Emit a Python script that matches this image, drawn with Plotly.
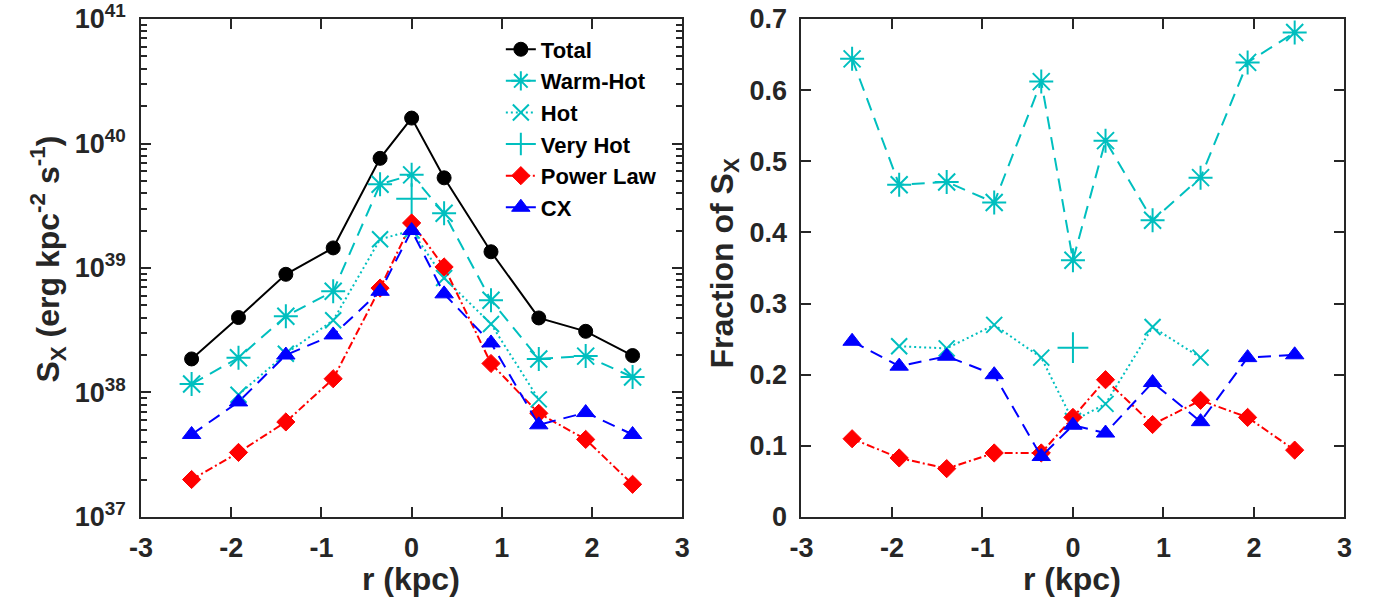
import plotly.graph_objects as go

# ---------------- data ----------------
R = [-2.44, -1.92, -1.395, -0.87, -0.35, 0.0, 0.36, 0.88, 1.41, 1.93, 2.45]

SERIES_NAMES = ["Total", "Warm-Hot", "Hot", "Very Hot", "Power Law", "CX"]

SX_TOTAL = [1.86e38, 4.0e38, 8.9e38, 1.45e39, 7.6e39, 1.6e40, 5.3e39, 1.35e39, 3.97e38, 3.1e38, 1.98e38]
SX_WARM = [1.17e38, 1.9e38, 4.1e38, 6.5e38, 4.7e39, 5.6e39, 2.75e39, 5.5e38, 1.86e38, 1.96e38, 1.33e38]
SX_HOT = [None, 9.6e37, 2.05e38, 3.8e38, 1.7e39, 2.0e39, 8.3e38, 3.55e38, 8.8e37, None, None]
SX_VHOT = [None, None, None, None, None, 3.6e39, None, None, None, None, None]
SX_PL = [2.0e37, 3.3e37, 5.8e37, 1.29e38, 6.9e38, 2.3e39, 1.02e39, 1.71e38, 6.8e37, 4.2e37, 1.83e37]
SX_CX = [4.6e37, 8.4e37, 2.0e38, 2.9e38, 6.5e38, 2.0e39, 6.2e38, 2.5e38, 5.5e37, 6.9e37, 4.6e37]

FR_WARM = [0.644, 0.467, 0.471, 0.442, 0.612, 0.361, 0.529, 0.417, 0.477, 0.639, 0.681]
FR_HOT = [None, 0.240, 0.237, 0.270, 0.224, 0.135, 0.159, 0.267, 0.224, None, None]
FR_VHOT = [None, None, None, None, None, 0.238, None, None, None, None, None]
FR_PL = [0.110, 0.083, 0.068, 0.090, 0.090, 0.140, 0.193, 0.130, 0.164, 0.140, 0.094]
FR_CX = [0.247, 0.212, 0.226, 0.200, 0.085, 0.129, 0.118, 0.189, 0.134, 0.224, 0.228]

X_TICKS = [-3, -2, -1, 0, 1, 2, 3]
X_TICK_TEXT = ["-3", "-2", "-1", "0", "1", "2", "3"]
LOG_TICKS = [1e37, 1e38, 1e39, 1e40, 1e41]
LOG_TICK_TEXT = ["10<sup>37</sup>", "10<sup>38</sup>", "10<sup>39</sup>", "10<sup>40</sup>", "10<sup>41</sup>"]
LOG_MINOR = [m * 10.0 ** e for e in range(37, 41) for m in range(2, 10)]
FR_TICKS = [0, 0.1, 0.2, 0.3, 0.4, 0.5, 0.6, 0.7]
FR_TICK_TEXT = ["0", "0.1", "0.2", "0.3", "0.4", "0.5", "0.6", "0.7"]

X_TITLE = "r (kpc)"
Y1_TITLE = "S<sub>X</sub> (erg kpc<sup>-2</sup> s<sup>-1</sup>)"
Y2_TITLE = "Fraction of S<sub>X</sub>"

# ---------------- styles ----------------
CYAN = "#00BFBF"
STYLES = {
    "Total": dict(color="black", dash="solid", symbol="circle", size=14, open=False),
    "Warm-Hot": dict(color=CYAN, dash="13px,8px", symbol="asterisk-open", size=20, open=True),
    "Hot": dict(color=CYAN, dash="2px,3px", symbol="x-thin-open", size=16, open=True),
    "Very Hot": dict(color=CYAN, dash="solid", symbol="cross-thin-open", size=22, open=True),
    "Power Law": dict(color="#FF0000", dash="8px,3px,2px,3px", symbol="diamond", size=14, open=False),
    "CX": dict(color="#0000FF", dash="13px,8px", symbol="triangle-up", size=16, open=False),
}

LEFT = {"Total": SX_TOTAL, "Warm-Hot": SX_WARM, "Hot": SX_HOT, "Very Hot": SX_VHOT,
        "Power Law": SX_PL, "CX": SX_CX}
RIGHT = {"Warm-Hot": FR_WARM, "Hot": FR_HOT, "Very Hot": FR_VHOT,
         "Power Law": FR_PL, "CX": FR_CX}

FONT = "Liberation Sans, Arial, Helvetica, sans-serif"
AXCOL = "#262626"
W, H = 1384, 600
TOP, BOT = 15, 517

fig = go.Figure()


def add(name, yvals, xa, ya, show):
    st = STYLES[name]
    marker = dict(symbol=st["symbol"], size=st["size"], color=st["color"],
                  line=dict(color=st["color"], width=2 if st["open"] else 1))
    fig.add_trace(go.Scatter(
        x=R, y=yvals, name=name, mode="lines+markers", xaxis=xa, yaxis=ya,
        line=dict(color=st["color"], width=2, dash=st["dash"]),
        marker=marker, showlegend=show, connectgaps=False,
        hoverinfo="skip"))


for n in SERIES_NAMES:
    add(n, LEFT[n], "x", "y", True)
for n in SERIES_NAMES[1:]:
    add(n, RIGHT[n], "x2", "y2", False)

tickfont = dict(family=FONT, size=27, color=AXCOL, weight="bold")

common_x = dict(range=[-3, 3], tickmode="array", tickvals=X_TICKS, ticktext=X_TICK_TEXT,
                ticks="inside", ticklen=10, tickwidth=2, tickcolor=AXCOL,
                showline=True, linecolor=AXCOL, linewidth=2, mirror="ticks",
                showgrid=False, zeroline=False, tickfont=tickfont,
                ticklabelstandoff=6, ticklabeloverflow="allow")


def py(pix):
    return (BOT - pix) / (BOT - TOP)


def title_ann(text, xpix, ypix, size, angle):
    return dict(text=text, xref="paper", yref="paper", x=xpix / W, y=py(ypix),
                xanchor="center", yanchor="middle", showarrow=False, textangle=angle,
                font=dict(family=FONT, size=size, color=AXCOL, weight="bold"))


fig.update_layout(
    width=W, height=H,
    margin=dict(l=0, r=0, t=TOP, b=H - BOT),
    paper_bgcolor="white", plot_bgcolor="white",
    font=dict(family=FONT, weight="bold", color=AXCOL),
    showlegend=True,
    legend=dict(x=496 / W, y=0.981, xanchor="left", yanchor="top",
                bgcolor="rgba(0,0,0,0)", borderwidth=0,
                font=dict(family=FONT, size=22, color="black", weight="bold"),
                itemsizing="trace"),
    xaxis=dict(domain=[131 / W, 680 / W], anchor="y", **common_x),
    xaxis2=dict(domain=[801 / W, 1352 / W], anchor="y2", **common_x),
    yaxis=dict(domain=[0, 1], anchor="x", type="log", range=[36.9999, 41.0001],
               tickmode="array", tickvals=LOG_TICKS, ticktext=LOG_TICK_TEXT,
               ticks="inside", ticklen=10, tickwidth=2, tickcolor=AXCOL,
               minor=dict(tickmode="array", tickvals=LOG_MINOR, ticks="inside",
                          ticklen=6, tickwidth=2, tickcolor=AXCOL, showgrid=False),
               showline=True, linecolor=AXCOL, linewidth=2, mirror="ticks",
               showgrid=False, zeroline=False, tickfont=tickfont, ticklabelstandoff=8,
               ticklabeloverflow="allow"),
    yaxis2=dict(domain=[0, 1], anchor="x2", range=[0, 0.7],
                tickmode="array", tickvals=FR_TICKS, ticktext=FR_TICK_TEXT,
                ticks="inside", ticklen=10, tickwidth=2, tickcolor=AXCOL,
                showline=True, linecolor=AXCOL, linewidth=2, mirror="ticks",
                showgrid=False, zeroline=False, tickfont=tickfont, ticklabelstandoff=7,
                ticklabeloverflow="allow"),
    annotations=[
        title_ann(X_TITLE, 405, 580, 32, 0),
        title_ann(X_TITLE, 1076, 580, 32, 0),
        title_ann(Y1_TITLE, 36, 257, 32, -90),
        title_ann(Y2_TITLE, 722, 261, 32, -90),
    ],
)

fig.write_html("out.html", config={"displayModeBar": False},
               post_script="document.body.style.margin='0px';")
